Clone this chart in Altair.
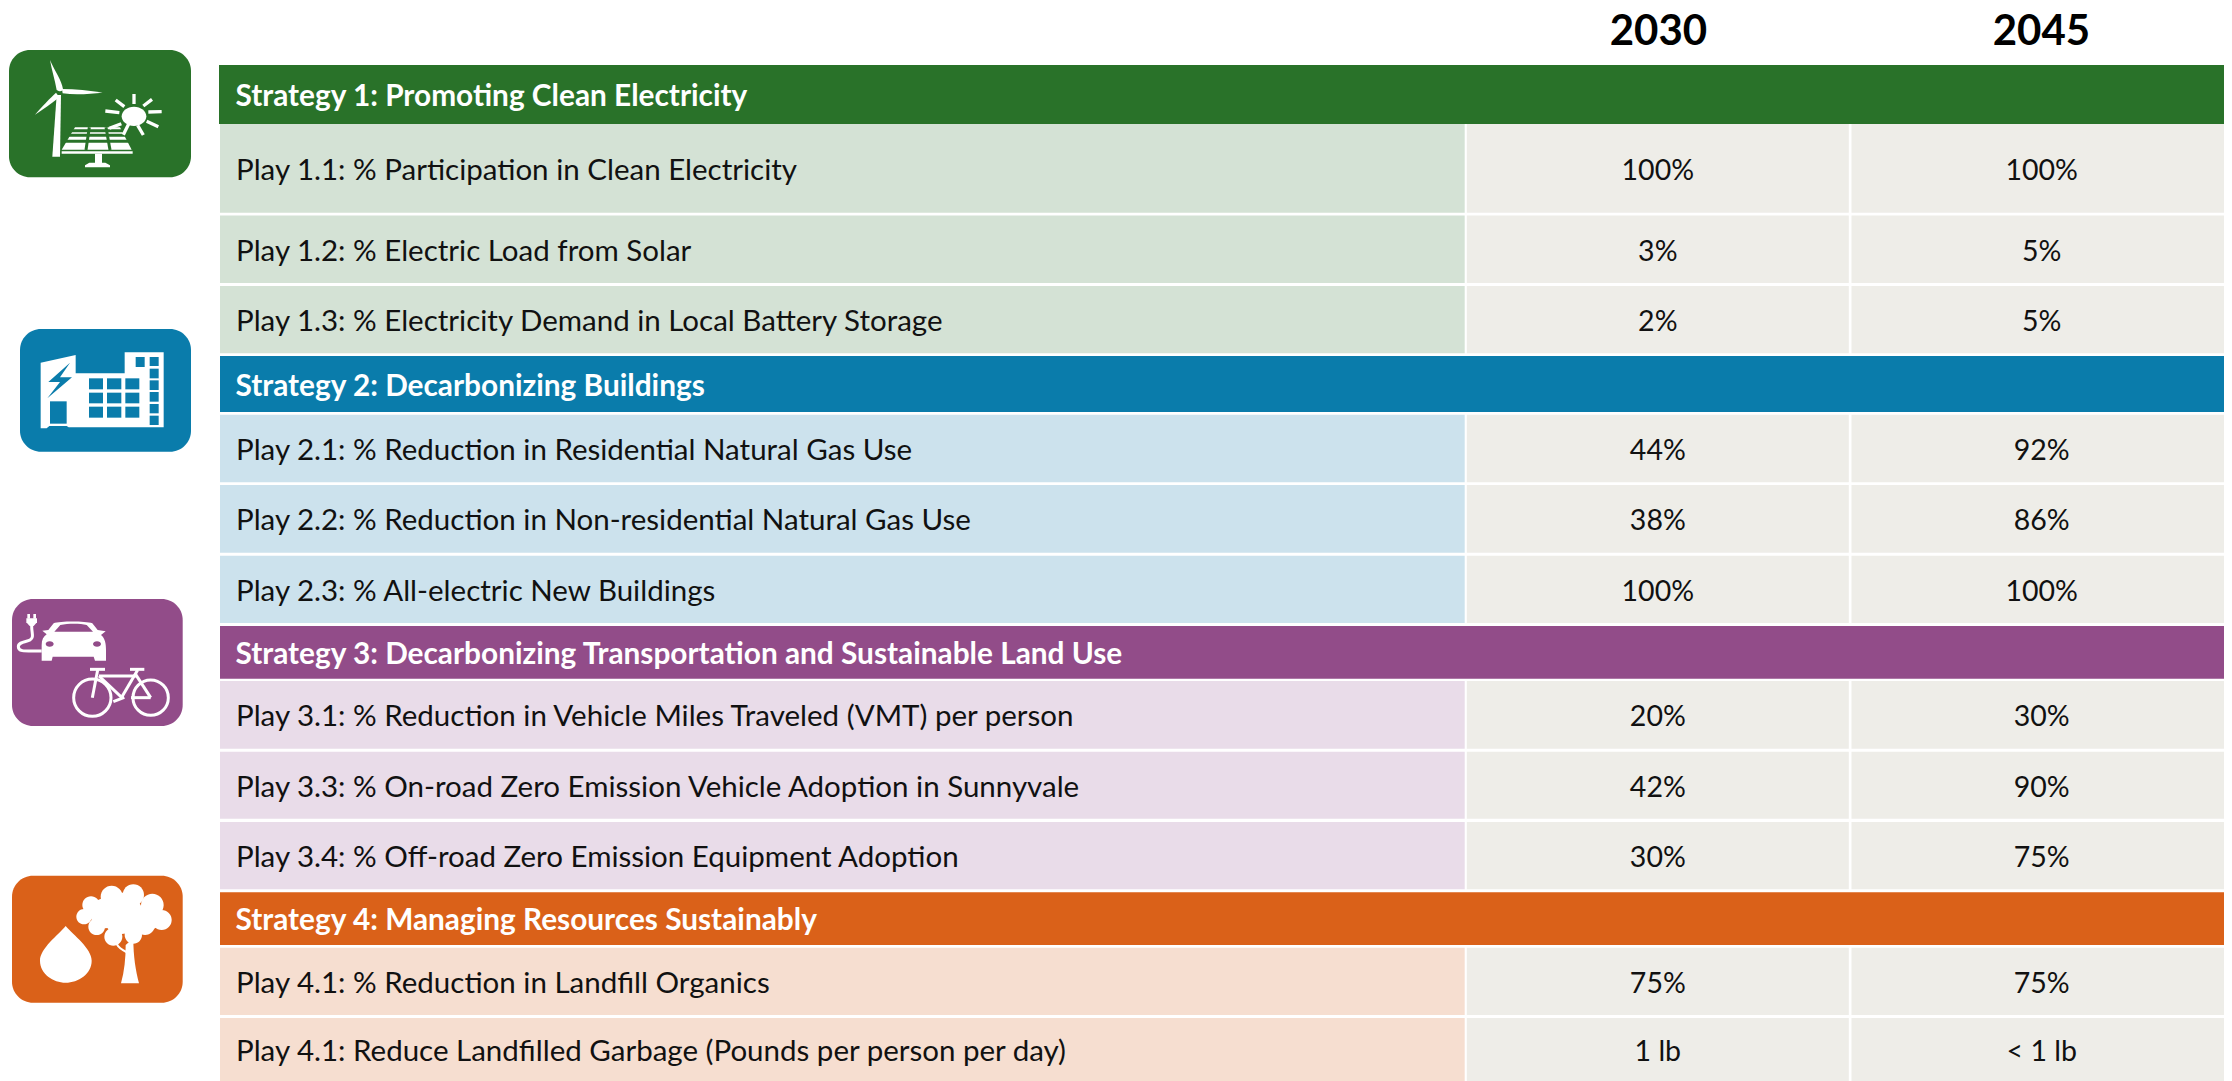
import altair as alt
import pandas as pd

# ---------- table content ----------
years = ["2030", "2045"]
strategies = [
    "Strategy 1: Promoting Clean Electricity",
    "Strategy 2: Decarbonizing Buildings",
    "Strategy 3: Decarbonizing Transportation and Sustainable Land Use",
    "Strategy 4: Managing Resources Sustainably",
]
plays = [
    ["Play 1.1: % Participation in Clean Electricity",
     "Play 1.2: % Electric Load from Solar",
     "Play 1.3: % Electricity Demand in Local Battery Storage"],
    ["Play 2.1: % Reduction in Residential Natural Gas Use",
     "Play 2.2: % Reduction in Non-residential Natural Gas Use",
     "Play 2.3: % All-electric New Buildings"],
    ["Play 3.1: % Reduction in Vehicle Miles Traveled (VMT) per person",
     "Play 3.3: % On-road Zero Emission Vehicle Adoption in Sunnyvale",
     "Play 3.4: % Off-road Zero Emission Equipment Adoption"],
    ["Play 4.1: % Reduction in Landfill Organics",
     "Play 4.1: Reduce Landfilled Garbage (Pounds per person per day)"],
]
targets_2030 = [["100%", "3%", "2%"], ["44%", "38%", "100%"], ["20%", "42%", "30%"], ["75%", "1 lb"]]
targets_2045 = [["100%", "5%", "5%"], ["92%", "86%", "100%"], ["30%", "90%", "75%"], ["75%", "< 1 lb"]]

# ---------- table layout (page pixels) ----------
header_spans = [(65, 124), (356, 412), (626, 678.7), (892.3, 945)]
play_spans = [
    [(124, 212.7), (215.5, 283), (286, 353.3)],
    [(414.7, 482.3), (485, 552.7), (555.7, 623)],
    [(681, 748.7), (751.7, 818.7), (822, 889.3)],
    [(947.7, 1015), (1018, 1081)],
]
label_col = (220, 1464.7)
col_2030 = (1466.8, 1848.8)
col_2045 = (1851.5, 2232)

dark = ["#297229", "#0A7CAB", "#924C89", "#DA6119"]
light = ["#D4E2D5", "#CCE2ED", "#E9DCE9", "#F6DED0"]
neutral = "#EEEDE8"

# ---------- build tables ----------
rects, heads, plays_tbl, values = [], [], [], []
for s, name in enumerate(strategies):
    y0, y1 = header_spans[s]
    rects.append(dict(x0=219 if s == 0 else label_col[0], x1=col_2045[1], y0=y0, y1=y1, fill=dark[s]))
    heads.append(dict(x=235.5, y=(y0 + y1) / 2, text=name))
    for p, play in enumerate(plays[s]):
        y0, y1 = play_spans[s][p]
        rects.append(dict(x0=label_col[0], x1=label_col[1], y0=y0, y1=y1, fill=light[s]))
        rects.append(dict(x0=col_2030[0], x1=col_2030[1], y0=y0, y1=y1, fill=neutral))
        rects.append(dict(x0=col_2045[0], x1=col_2045[1], y0=y0, y1=y1, fill=neutral))
        plays_tbl.append(dict(x=236, y=(y0 + y1) / 2, text=play))
        values.append(dict(x=sum(col_2030) / 2, y=(y0 + y1) / 2, text=targets_2030[s][p]))
        values.append(dict(x=sum(col_2045) / 2, y=(y0 + y1) / 2, text=targets_2045[s][p]))

head = [dict(x=1658.4, y=45, text=years[0]), dict(x=2041.4, y=45, text=years[1])]

# ---------- icons ----------
icons = [
    dict(x0=9, x1=191, y0=50, y1=177.3, fill=dark[0]),
    dict(x0=20, x1=191, y0=329, y1=451.7, fill=dark[1]),
    dict(x0=12, x1=182.7, y0=599, y1=726, fill=dark[2]),
    dict(x0=12, x1=182.7, y0=875.7, y1=1002.7, fill=dark[3]),
]
# Glyph anchors: paths are drawn in 3x units from these points.
anchors = [(0, 40), (10, 320), (5, 590), (5, 870)]


def circle(cx, cy, rx, ry=None):
    ry = rx if ry is None else ry
    k = 0.5523
    return (f"M{cx-rx},{cy}C{cx-rx},{cy-k*ry} {cx-k*rx},{cy-ry} {cx},{cy-ry}"
            f"C{cx+k*rx},{cy-ry} {cx+rx},{cy-k*ry} {cx+rx},{cy}"
            f"C{cx+rx},{cy+k*ry} {cx+k*rx},{cy+ry} {cx},{cy+ry}"
            f"C{cx-k*rx},{cy+ry} {cx-rx},{cy+k*ry} {cx-rx},{cy}Z")


def box(x0, y0, x1, y1):
    return f"M{x0},{y0}L{x1},{y0}L{x1},{y1}L{x0},{y1}Z"


fills = []    # (icon, colour, path)
strokes = []  # (icon, colour, width, path)
W = "#FFFFFF"

# Icon 1: wind turbine, sun, solar panel
fills += [(0, W, p) for p in [
    "M170,165L183,165L180,350L157,350Z",
    "M150,60C165,95 185,120 189,148C186,156 178,155 170,150C165,120 155,90 150,60Z",
    "M186,147C225,147 270,152 308,158C270,162 225,165 188,160Z",
    "M105,224C125,200 150,175 168,158L178,172C155,190 130,208 105,224Z",
    circle(402, 229, 37, 29),
    "M225,262L360,262L395,329L185,329Z",
    box(185, 334, 398, 341),
    box(285, 341, 306, 372),
    "M268,368L316,368L330,376L330,382L255,382L255,376Z",
]]
strokes += [(0, dark[0], 3, p) for p in [
    "M268,262L258,330", "M318,262L330,330",
    "M205,272L375,272", "M205,286L380,286", "M195,304L390,304",
]]
strokes += [(0, W, 3.3, p) for p in [
    "M402,162L402,192", "M430,198L456,178", "M445,216L485,215", "M440,244L475,260",
    "M413,256L430,285", "M387,250L370,284", "M364,251L328,265", "M358,218L316,213", "M373,200L347,180",
]]

# Icon 2: building with lightning bolt
fills.append((1, W, "M92,128L197,105L197,160L344,160L344,97L461,97L461,322L176,322L170,318L118,318L110,325L92,325Z"))
fills.append((1, dark[1], "M180,128L115,186L150,186L112,235L186,172L150,172Z"))
fills.append((1, dark[1], box(120, 244, 170, 311)))
for cx in [(237, 279), (291, 334), (346, 388)]:
    for cy in [(175, 208), (218, 250), (260, 293)]:
        fills.append((1, dark[1], box(cx[0], cy[0], cx[1], cy[1])))
fills.append((1, dark[1], box(377, 111, 404, 141)))
for cy in [(111, 138), (146, 175), (181, 210), (216, 245), (252, 280), (287, 315)]:
    fills.append((1, dark[1], box(419, cy[0], 446, cy[1])))

# Icon 3: plug-in car and bicycle
fills += [(2, W, p) for p in [
    "M112,122L130,120L146,100C165,93 240,93 262,100L278,120L302,124L288,135C300,145 303,160 303,180"
    "L303,212L270,212L266,200L143,200L140,212L110,212L110,165C110,150 115,140 125,133Z",
    box(67, 72, 75, 86), box(85, 72, 93, 86),
    "M64,85L96,85L96,97L86,108L74,108L64,97Z",
]]
fills += [(2, dark[2], p) for p in [
    "M148,125L166,105C190,100 225,100 245,105L264,125Z",
    circle(134, 162, 12, 8), circle(276, 162, 12, 8),
]]
strokes += [(2, W, 3, p) for p in [
    "M80,108C80,130 88,142 75,150C65,156 40,155 40,170C40,186 60,183 110,183",
    circle(262, 323, 56), circle(437, 323, 53),
    "M255,238L300,238", "M375,238L418,238",
    "M278,240L262,323", "M282,258L393,258", "M282,258L350,322", "M398,240L350,322",
    "M390,250L437,323", "M437,323L378,323", "M325,335L358,322",
]]

# Icon 4: water drop and tree
fills.append((3, W, "M182,168C160,195 105,235 105,272C105,312 145,338 182,338C220,338 260,312 260,272C260,235 205,195 182,168Z"))
fills.append((3, W, "M362,225L385,205C385,260 392,300 402,340L348,340C358,305 362,265 362,225Z"))
fills += [(3, W, circle(*c)) for c in [
    (320, 80, 33), (385, 75, 32), (442, 105, 34), (470, 150, 30), (420, 165, 30),
    (258, 105, 26), (237, 140, 23), (275, 170, 25), (325, 200, 27), (385, 195, 26),
    (350, 130, 62), (430, 140, 40), (300, 130, 45),
]]
strokes.append((3, W, 2, "M335,222C342,235 352,240 364,246"))

fill_df = pd.DataFrame([
    dict(x=anchors[i][0], y=anchors[i][1], col=c, path=p) for i, c, p in fills
])
stroke_df = pd.DataFrame([
    dict(x=anchors[i][0], y=anchors[i][1], col=c, sw=w, path=p) for i, c, w, p in strokes
])

# ---------- chart: page-pixel scales, 1:1 ----------
xs = alt.Scale(domain=[8, 2224], range=[0, 2216], nice=False, zero=False)
ys = alt.Scale(domain=[8, 1081], range=[0, 1073], nice=False, zero=False)
X = alt.X("x:Q", scale=xs, axis=None)
Y = alt.Y("y:Q", scale=ys, axis=None)

rect_layer = alt.Chart(pd.DataFrame(rects)).mark_rect().encode(
    x=alt.X("x0:Q", scale=xs, axis=None), x2="x1:Q",
    y=alt.Y("y0:Q", scale=ys, axis=None), y2="y1:Q",
    fill=alt.Fill("fill:N", scale=None),
)
icon_layer = alt.Chart(pd.DataFrame(icons)).mark_rect(cornerRadius=21).encode(
    x=alt.X("x0:Q", scale=xs, axis=None), x2="x1:Q",
    y=alt.Y("y0:Q", scale=ys, axis=None), y2="y1:Q",
    fill=alt.Fill("fill:N", scale=None),
)
glyph_fill = alt.Chart(fill_df).mark_point(filled=True, opacity=1, size=4 / 9, strokeWidth=0).encode(
    x=X, y=Y,
    shape=alt.Shape("path:N", scale=None),
    fill=alt.Fill("col:N", scale=None),
)
glyph_stroke = alt.Chart(stroke_df).mark_point(filled=False, opacity=1, size=4 / 9).encode(
    x=X, y=Y,
    shape=alt.Shape("path:N", scale=None),
    stroke=alt.Stroke("col:N", scale=None),
    strokeWidth=alt.StrokeWidth("sw:Q", scale=None),
)
head_text = alt.Chart(pd.DataFrame(heads)).mark_text(
    font="Lato", fontSize=29.8, fontWeight="bold", align="left", baseline="alphabetic", dy=11.7, color="white"
).encode(x=X, y=Y, text="text:N")
play_text = alt.Chart(pd.DataFrame(plays_tbl)).mark_text(
    font="Lato", fontSize=29.5, align="left", baseline="alphabetic", dy=11.5, color="#111111"
).encode(x=X, y=Y, text="text:N")
value_layer = alt.Chart(pd.DataFrame(values)).mark_text(
    font="Lato", fontSize=28.5, align="center", baseline="alphabetic", dy=11.5, color="#111111"
).encode(x=X, y=Y, text="text:N")
head_layer = alt.Chart(pd.DataFrame(head)).mark_text(
    font="Lato", fontSize=42, fontWeight="bold", align="center", baseline="alphabetic", color="#000000"
).encode(x=X, y=Y, text="text:N")

chart = alt.layer(
    rect_layer, icon_layer, glyph_fill, glyph_stroke, head_text, play_text, value_layer, head_layer
).properties(
    width=2216, height=1073, padding=0, background="white",
    autosize=alt.AutoSizeParams(type="none"),
).configure_view(stroke=None)

chart.save("out.html", embed_options={"renderer": "svg", "actions": False})
